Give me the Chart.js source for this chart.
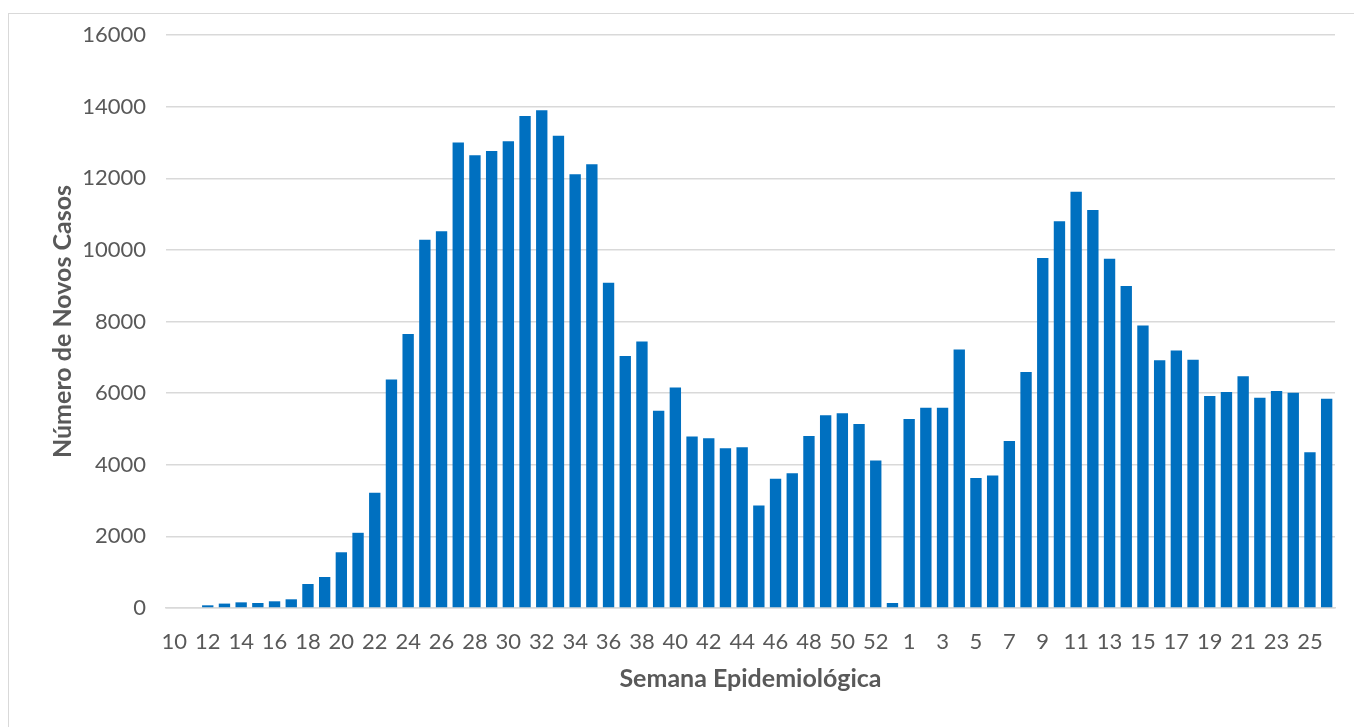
<!DOCTYPE html>
<html>
<head>
<meta charset="utf-8">
<script src="https://cdn.jsdelivr.net/npm/chart.js@4.4.1/dist/chart.umd.min.js"></script>
<style>
  html, body { margin: 0; padding: 0; background: #ffffff; }
  #frame { position: absolute; left: 8px; top: 13px; width: 1360px; height: 730px; border: 1px solid #d9d9d9; box-sizing: border-box; }
  #wrap { position: absolute; left: 0; top: 0; width: 1354px; height: 727px; }
</style>
</head>
<body>
<div id="frame"></div>
<div id="wrap"><canvas id="c" width="1354" height="727"></canvas></div>
<script>
const weeks = [10,11,12,13,14,15,16,17,18,19,20,21,22,23,24,25,26,27,28,29,30,31,32,33,34,35,36,37,38,39,40,41,42,43,44,45,46,47,48,49,50,51,52,53,
               1,2,3,4,5,6,7,8,9,10,11,12,13,14,15,16,17,18,19,20,21,22,23,24,25,26];
const newCases = [0,0,75,123,158,140,187,243,670,866,1556,2100,3220,6380,7650,10280,10520,13000,12640,12760,13030,13740,13900,13190,12110,12390,9080,7040,7440,5510,6160,4790,4740,4460,4490,2860,3610,3760,4800,5380,5440,5140,4120,140,
                  5280,5590,5590,7220,3630,3700,4660,6590,9770,10800,11620,11110,9750,8990,7890,6920,7190,6930,5920,6030,6470,5870,6060,6010,4350,5840];
const yTicks = [0,2000,4000,6000,8000,10000,12000,14000,16000];
const yTitle = 'Número de Novos Casos';
const xTitle = 'Semana Epidemiológica';

const labels = weeks.map(String);
const FONT = 'Lato, "Open Sans", sans-serif';

new Chart(document.getElementById('c'), {
  type: 'bar',
  data: {
    labels: labels,
    datasets: [{
      data: newCases,
      backgroundColor: '#0070C0',
      borderWidth: 0,
      barPercentage: 0.68,
      categoryPercentage: 1.0
    }]
  },
  options: {
    responsive: false,
    animation: false,
    layout: { padding: { left: 48, right: 19, top: 35, bottom: 33 } },
    plugins: { legend: { display: false }, tooltip: { enabled: false } },
    scales: {
      x: {
        afterFit: function(s) { s.height = 86; },
        grid: { display: false, drawTicks: false },
        border: { display: true, color: '#d9d9d9', width: 1.5 },
        ticks: {
          autoSkip: false, maxRotation: 0, minRotation: 0,
          color: '#595959', font: { family: FONT, size: 22 }, padding: 21,
          callback: function(v, i) { return i % 2 === 0 ? labels[i] : ''; }
        },
        title: { display: true, text: xTitle, color: '#595959', font: { family: FONT, size: 25, weight: 'bold' }, padding: { top: 4, bottom: 0 } }
      },
      y: {
        min: 0, max: 16000,
        afterBuildTicks: function(s) { s.ticks = yTicks.map(v => ({ value: v })); },
        afterFit: function(s) { s.width = 118; },
        grid: { color: '#d9d9d9', lineWidth: 1.5, drawTicks: false },
        border: { display: false },
        ticks: { color: '#595959', font: { family: FONT, size: 22 }, padding: 20, callback: function(v) { return String(v); } },
        title: { display: true, text: yTitle, color: '#595959', font: { family: FONT, size: 25, weight: 'bold' }, padding: 0 }
      }
    }
  }
});
</script>
</body>
</html>
